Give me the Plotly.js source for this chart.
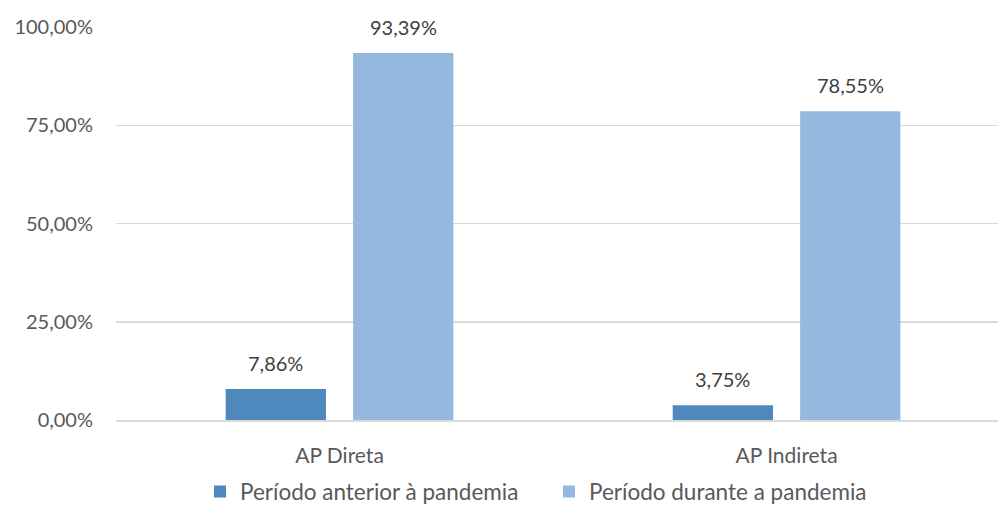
<!DOCTYPE html>
<html><head><meta charset="utf-8">
<script src="https://cdn.plot.ly/plotly-3.0.1.min.js"></script>
<style>html,body{margin:0;padding:0;background:#fff}#chart{width:998px;height:506px}</style>
</head><body><div id="chart"></div>
<script>
const categories = ["AP Direta", "AP Indireta"];
const seriesNames = ["Período anterior à pandemia", "Período durante a pandemia"];
const antes = [7.86, 3.75];
const durante = [93.39, 78.55];
const yTicks = [0, 25, 50, 75, 100];
const yTickText = yTicks.map(v => v.toFixed(2).replace(".", ",") + "%");

const colors = ["#4F88BC", "#95B8DF"];
const FONT = "Lato, 'Open Sans', sans-serif";
const bargap = 0.43, bargroupgap = 0.213;
const seriesVals = [antes, durante];

const traces = seriesVals.map((vals, i) => ({
  type: "bar", name: seriesNames[i], x: categories, y: vals,
  marker: {color: colors[i]}, hoverinfo: "none"
}));

// data labels above each bar, offset within group derived from bar gaps
const slot = (1 - bargap) / 2;
const annotations = [];
seriesVals.forEach((vals, s) => {
  vals.forEach((v, c) => {
    annotations.push({
      xref: "x", yref: "y", x: c + (s - 0.5) * slot, y: v,
      text: v.toFixed(2).replace(".", ",") + "%",
      showarrow: false, yanchor: "bottom", yshift: 12,
      font: {family: FONT, size: 20, color: "#404040"}
    });
  });
});

const layout = {
  width: 998, height: 506,
  margin: {l: 116, r: 0, t: 27, b: 86, autoexpand: false},
  paper_bgcolor: "#fff", plot_bgcolor: "#fff",
  barmode: "group", bargap: bargap, bargroupgap: bargroupgap,
  font: {family: FONT, size: 20, color: "#595959"},
  xaxis: {
    type: "category", range: [-0.5, 1.473], showgrid: false,
    showline: true, linecolor: "#D9D9D9", linewidth: 1.5,
    ticks: "", ticklabelstandoff: 16, fixedrange: true, automargin: false,
    tickfont: {family: FONT, size: 21, color: "#595959"}
  },
  yaxis: {
    range: [0, 100], tickvals: yTicks, ticktext: yTickText,
    showgrid: true, gridcolor: "#D9D9D9", gridwidth: 1.5, automargin: false,
    zeroline: false, showline: false, ticks: "", ticklabelstandoff: 22,
    tickfont: {family: FONT, size: 20, color: "#595959"}
  },
  showlegend: true,
  legend: {
    orientation: "h", x: 200/998, xref: "container", xanchor: "left",
    y: -0.183, yref: "paper", yanchor: "middle", bgcolor: "rgba(0,0,0,0)",
    font: {family: FONT, size: 22.5, color: "#595959"}, itemwidth: 30, traceorder: "normal",
    entrywidth: 304, entrywidthmode: "pixels"
  },
  annotations: annotations
};

Plotly.newPlot("chart", traces, layout, {displayModeBar: false, staticPlot: true});
</script></body></html>
